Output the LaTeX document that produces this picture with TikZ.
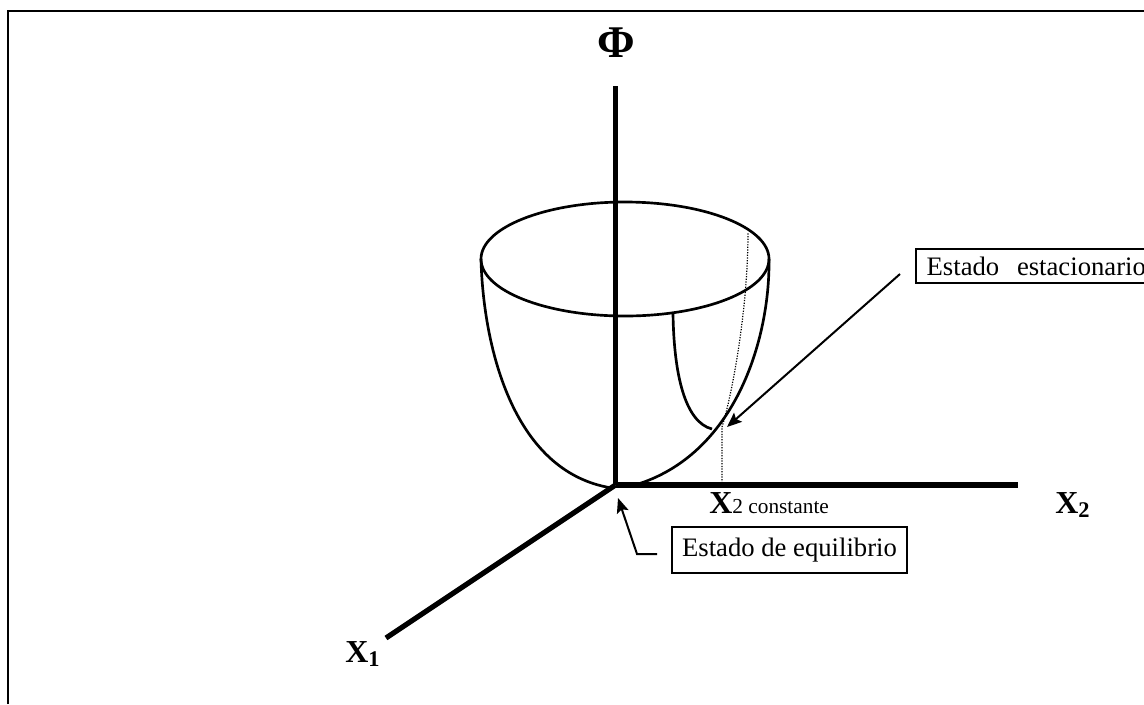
\documentclass[tikz,border=0pt]{standalone}
\usepackage{fontspec}
\setmainfont{Liberation Serif}
\usetikzlibrary{calc,arrows.meta}
\tikzset{
  eixo/.style={line width=3.9pt},
  curva/.style={line width=2pt},
  seta/.style={line width=1.5pt,-{Stealth[length=11pt,width=9pt,inset=2pt]}},
  caixa/.style={draw,line width=1.5pt,inner sep=0pt,font=\fontsize{20}{24}\selectfont},
  rotulo/.style={inner sep=0pt,anchor=base west,font=\fontsize{24}{28}\selectfont\bfseries}
}
\begin{document}
\begin{tikzpicture}[x=.75pt,y=-.75pt]
\useasboundingbox (0,0) rectangle (1144,704);
% moldura
\draw[line width=1.6pt] (8,704)--(8,11)--(1144,11);
% eixos
\coordinate (origem) at (615.5,485);
\coordinate (topoPhi) at (615.5,86);
\coordinate (fimX) at (1018,485);
\coordinate (fimY) at (386,638);
\draw[eixo] (origem)--(topoPhi);
\draw[eixo] (origem)--(fimX);
\draw[eixo] (origem)--(fimY);
% paraboloide
\draw[curva] (625,259) ellipse [x radius=144,y radius=57];
\draw[curva] (481,259) .. controls (483,340) and (510,472) .. (612,488);
\draw[curva] (769,259) .. controls (770,340) and (735,455) .. (635,485);
\draw[curva] (673,314) .. controls (674,375) and (685,422) .. (712,429);
% linha pontilhada
\draw[line width=.9pt,dash pattern=on .9pt off 1.1pt] (722,483)--(722,427) .. controls (732,395) and (748,310) .. (748,232);
% textos
\node[inner sep=0pt,font=\fontsize{34}{38}\selectfont\bfseries] (phi) at (616,43) {Φ};
\node[rotulo] (xum) at (345,662) {X\textsubscript{1}};
\node[rotulo] (xdois) at (1055,513) {X\textsubscript{2}};
\node[inner sep=0pt,anchor=base west] (xconst) at (709,513) {\fontsize{24}{28}\selectfont\bfseries X\fontsize{16}{20}\selectfont\mdseries 2 constante};
% caixas
\node[caixa,minimum width=176.25pt,minimum height=34.5pt] (equilibrio) at (789.5,550) {Estado de equilibrio};
\node[caixa,anchor=north west,minimum width=195pt,minimum height=25.5pt,text width=179pt,align=left] (estacionario) at (915,248) {Estado\ \ estacionario};
\coordinate (cotovelo) at (637,554);
\coordinate (inicioEq) at (657,554);
\coordinate (pontaEq) at (618,498);
\coordinate (inicioEst) at (900,274);
\coordinate (pontaEst) at (727,427);
\draw[seta] (inicioEq)--(cotovelo)--(pontaEq);
\draw[seta] (inicioEst)--(pontaEst);
\end{tikzpicture}
\end{document}
